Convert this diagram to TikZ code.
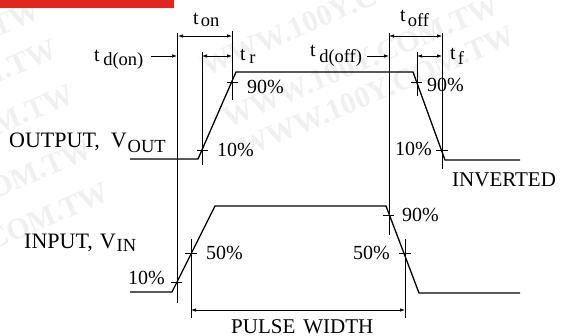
\documentclass[tikz,border=0pt]{standalone}
\usepackage{fontspec}
\setmainfont{Liberation Serif}
\usetikzlibrary{arrows.meta}
\definecolor{barred}{RGB}{222,39,32}
\newcommand{\subtxt}[2]{\raisebox{#1}{\fontsize{18.5}{20}\selectfont #2}}

\begin{document}
\begin{tikzpicture}[x=1pt,y=-1pt]
  \tikzset{lab/.style = {anchor=base west,inner sep=0pt,font=\fontsize{20}{24}\selectfont}}
  \tikzset{caps/.style = {lab,font=\fontsize{21}{24}\selectfont}}
  \tikzset{wave/.style = {line width=1.3pt}}
  \tikzset{guide/.style = {line width=0.8pt}}
  \tikzset{tick/.style = {line width=0.7pt}}
  \tikzset{dim/.style = {line width=0.7pt,{Latex[length=5pt,width=3.5pt]}-{Latex[length=5pt,width=3.5pt]}}}
  \tikzset{lead/.style = {line width=0.7pt,-{Latex[length=5pt,width=3.5pt]}}}
  \tikzset{wmark/.style = {anchor=south east,inner sep=0pt,rotate=23,text=black!6,font=\bfseries\fontsize{30}{30}\selectfont}}

\useasboundingbox (0,0) rectangle (567,336);

% watermark
\node[wmark] (wa) at (43,18) {WWW.100Y.COM.TW};
\node[wmark] (wb) at (60,57) {WWW.100Y.COM.TW};
\node[wmark] (wc) at (77,102) {WWW.100Y.COM.TW};
\node[wmark] (wd) at (95,157) {WWW.100Y.COM.TW};
\node[wmark] (we) at (112,200) {WWW.100Y.COM.TW};
\node[wmark] (wf) at (480,-39) {WWW.100Y.COM.TW};
\node[wmark] (wg) at (502,13) {WWW.100Y.COM.TW};
\node[wmark] (wh) at (518,43) {WWW.100Y.COM.TW};

\fill[barred] (0,0) rectangle (174,8);

% output wave
\coordinate (o0) at (130,159);
\coordinate (o1) at (198,159);
\coordinate (o2) at (236,72);
\coordinate (o3) at (413,72);
\coordinate (o4) at (445,160);
\coordinate (o5) at (520,160);
\draw[wave] (o0) -- (o1) -- (o2) -- (o3) -- (o4) -- (o5);

% input wave
\coordinate (i0) at (130,292);
\coordinate (i1) at (172,292);
\coordinate (i2) at (215,206);
\coordinate (i3) at (386,206);
\coordinate (i4) at (419,293);
\coordinate (i5) at (520,293);
\draw[wave] (i0) -- (i1) -- (i2) -- (i3) -- (i4) -- (i5);

% guide lines
\coordinate (gonT) at (177.5,33);   \coordinate (gonB) at (177.5,303);
\coordinate (grT) at (202,52);      \coordinate (grB) at (202,165);
\coordinate (gtT) at (232,31);      \coordinate (gtB) at (232,100);
\coordinate (goffT) at (389,33);    \coordinate (goffB) at (389,235);
\coordinate (gfT) at (417,52);      \coordinate (gfB) at (417,96);
\coordinate (gendT) at (442,33);    \coordinate (gendB) at (442,169);
\coordinate (pwlT) at (191,239);    \coordinate (pwlB) at (191,318);
\coordinate (pwrT) at (405,239);    \coordinate (pwrB) at (405,318);
\draw[guide] (gonT) -- (gonB);
\draw[guide] (grT) -- (grB);
\draw[guide] (gtT) -- (gtB);
\draw[guide] (goffT) -- (goffB);
\draw[guide] (gfT) -- (gfB);
\draw[guide] (gendT) -- (gendB);
\draw[guide] (pwlT) -- (pwlB);
\draw[guide] (pwrT) -- (pwrB);

% level ticks
\coordinate (a1) at (227,82);  \coordinate (a2) at (238,82);
\coordinate (b1) at (197,150); \coordinate (b2) at (208,150);
\coordinate (c1) at (411,82);  \coordinate (c2) at (422,82);
\coordinate (d1) at (436,150); \coordinate (d2) at (448,150);
\coordinate (e1) at (171,282); \coordinate (e2) at (182,282);
\coordinate (f1) at (185,253); \coordinate (f2) at (197,253);
\coordinate (g1) at (383,215); \coordinate (g2) at (394,215);
\coordinate (h1) at (399,253); \coordinate (h2) at (411,253);
\draw[tick] (a1) -- (a2);
\draw[tick] (b1) -- (b2);
\draw[tick] (c1) -- (c2);
\draw[tick] (d1) -- (d2);
\draw[tick] (e1) -- (e2);
\draw[tick] (f1) -- (f2);
\draw[tick] (g1) -- (g2);
\draw[tick] (h1) -- (h2);

% time arrows
\coordinate (ton1) at (178,36);  \coordinate (ton2) at (232,36);
\coordinate (tr1) at (202,56);   \coordinate (tr2) at (232,56);
\coordinate (tof1) at (389,36);  \coordinate (tof2) at (442,36);
\coordinate (tf1) at (417,56);   \coordinate (tf2) at (442,56);
\coordinate (pw1) at (191,310);  \coordinate (pw2) at (405,310);
\coordinate (don1) at (151,56);  \coordinate (don2) at (177,56);
\coordinate (dof1) at (367,56);  \coordinate (dof2) at (389,56);
\draw[dim] (ton1) -- (ton2);
\draw[dim] (tr1) -- (tr2);
\draw[dim] (tof1) -- (tof2);
\draw[dim] (tf1) -- (tf2);
\draw[dim] (pw1) -- (pw2);
\draw[lead] (don1) -- (don2);
\draw[lead] (dof1) -- (dof2);

% labels
\node[lab] (lton) at (193,24.5) {t\kern2pt\subtxt{-2.5pt}{on}};
\node[lab] (ltr) at (240,61) {t\kern3.5pt\subtxt{-2.5pt}{r}};
\node[lab] (ldon) at (94,62) {t\kern3.5pt\subtxt{-3.5pt}{d(on)}};
\node[lab] (ldof) at (310,57) {t\kern3.5pt\subtxt{-5.5pt}{d(off)}};
\node[lab] (ltof) at (400,22) {t\kern2pt\subtxt{-4.5pt}{off}};
\node[lab] (ltf) at (450,60) {t\kern2pt\subtxt{-5pt}{f}};

\node[lab] (p90a) at (247,94) {90\%};
\node[lab] (p10a) at (217,157) {10\%};
\node[lab] (p90b) at (427,92) {90\%};
\node[lab] (p10b) at (395,156) {10\%};
\node[lab] (p10c) at (128,285) {10\%};
\node[lab] (p50a) at (206,260) {50\%};
\node[lab] (p50b) at (353,260) {50\%};
\node[lab] (p90c) at (402,222) {90\%};

\node[lab,font=\fontsize{22}{24}\selectfont] (lout) at (9,148) {OUTPUT,\kern11pt V\kern1pt\subtxt{-5pt}{OUT}};
\node[lab,font=\fontsize{22}{24}\selectfont] (lin) at (24,249) {INPUT,\kern7pt V\kern1pt\subtxt{-3pt}{IN}};
\node[caps] (linv) at (452,187) {INVERTED};
\node[caps] (lpw) at (231,334) {PULSE\kern8pt WIDTH};

\end{tikzpicture}
\end{document}
